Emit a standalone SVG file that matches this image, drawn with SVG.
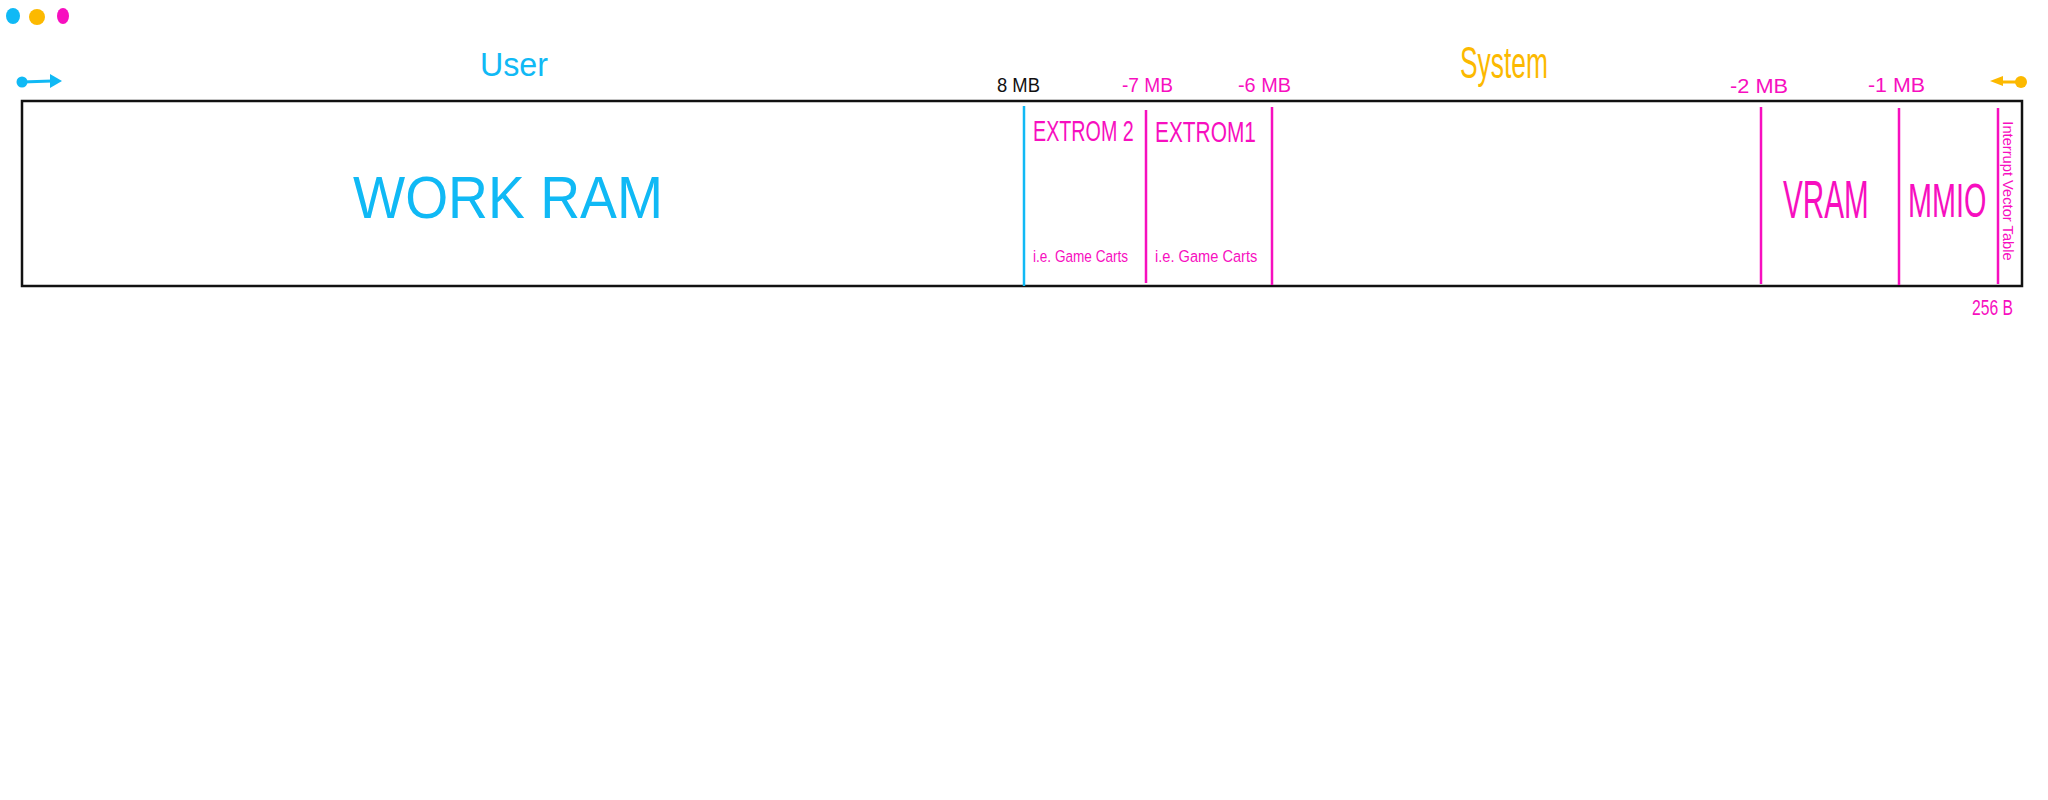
<svg xmlns="http://www.w3.org/2000/svg" width="2048" height="800" viewBox="0 0 2048 800">
<style>
.t{font-family:"Liberation Sans",Arial,sans-serif}
.c{fill:#10b9f5}
.y{fill:#fcb900}
.m{fill:#f70fbf}
.k{fill:#111}
.div{stroke-width:2.5;fill:none}
</style>
<rect width="2048" height="800" fill="#fff"/>
<g id="legend">
<ellipse cx="13" cy="16" rx="7" ry="8" class="c"/>
<ellipse cx="37" cy="17" rx="8" ry="8" class="y"/>
<ellipse cx="63" cy="16" rx="6" ry="8" class="m"/>
</g>
<g id="connectors">
<g id="user-arrow">
<circle cx="22" cy="82" r="5.5" class="c"/>
<line x1="22" y1="82" x2="52" y2="81" stroke="#10b9f5" stroke-width="3"/>
<polygon points="50,74 62,81 50,88" class="c"/>
</g>
<g id="system-arrow">
<circle cx="2021" cy="82" r="6" class="y"/>
<line x1="2021" y1="82" x2="1998" y2="82" stroke="#fcb900" stroke-width="3"/>
<polygon points="2003,76 1990,81 2003,86" class="y"/>
</g>
</g>
<g id="labels">
<text class="t c" x="480" y="76" font-size="34" textLength="68" lengthAdjust="spacingAndGlyphs">User</text>
<text class="t y" transform="translate(1460,78) scale(0.6,1)" font-size="44">System</text>
<text class="t k" x="997" y="92" font-size="20" textLength="43" lengthAdjust="spacingAndGlyphs">8 MB</text>
<text class="t m" x="1122" y="92" font-size="20" textLength="51" lengthAdjust="spacingAndGlyphs">-7 MB</text>
<text class="t m" x="1238" y="92" font-size="20" textLength="53" lengthAdjust="spacingAndGlyphs">-6 MB</text>
<text class="t m" x="1730" y="93" font-size="20" textLength="58" lengthAdjust="spacingAndGlyphs">-2 MB</text>
<text class="t m" x="1868" y="92" font-size="20" textLength="57" lengthAdjust="spacingAndGlyphs">-1 MB</text>
<text class="t m" x="1972" y="315" font-size="22" textLength="41" lengthAdjust="spacingAndGlyphs">256 B</text>
</g>
<g id="memory-map">
<rect x="22" y="101" width="2000" height="185" fill="none" stroke="#111" stroke-width="2.5"/>
</g>
<g id="work-ram">
<text class="t c" x="353" y="218" font-size="60" textLength="310" lengthAdjust="spacingAndGlyphs">WORK RAM</text>
</g>
<g id="extrom2">
<line x1="1024" y1="106" x2="1024" y2="286" stroke="#10b9f5" class="div"/>
<text class="t m" transform="translate(1033,141) scale(0.68,1)" font-size="29">EXTROM 2</text>
<text class="t m" transform="translate(1033,262) scale(0.8,1)" font-size="17">i.e. Game Carts</text>
</g>
<g id="extrom1">
<line x1="1146" y1="110" x2="1146" y2="283" stroke="#f70fbf" class="div"/>
<text class="t m" transform="translate(1155,142) scale(0.72,1)" font-size="29">EXTROM1</text>
<text class="t m" transform="translate(1155,262) scale(0.86,1)" font-size="17">i.e. Game Carts</text>
</g>
<g id="system">
<line x1="1272" y1="107" x2="1272" y2="285" stroke="#f70fbf" class="div"/>
</g>
<g id="vram">
<line x1="1761" y1="107" x2="1761" y2="284" stroke="#f70fbf" class="div"/>
<text class="t m" transform="translate(1783,218) scale(0.55,1)" font-size="54">VRAM</text>
</g>
<g id="mmio">
<line x1="1899" y1="108" x2="1899" y2="285" stroke="#f70fbf" class="div"/>
<text class="t m" transform="translate(1908,217) scale(0.6,1)" font-size="48">MMIO</text>
</g>
<g id="ivt">
<line x1="1998" y1="108" x2="1998" y2="284" stroke="#f70fbf" class="div"/>
<text class="t m" transform="translate(2003,191) rotate(90) scale(1.05,1)" text-anchor="middle" font-size="14">Interrupt Vector Table</text>
</g>
</svg>
